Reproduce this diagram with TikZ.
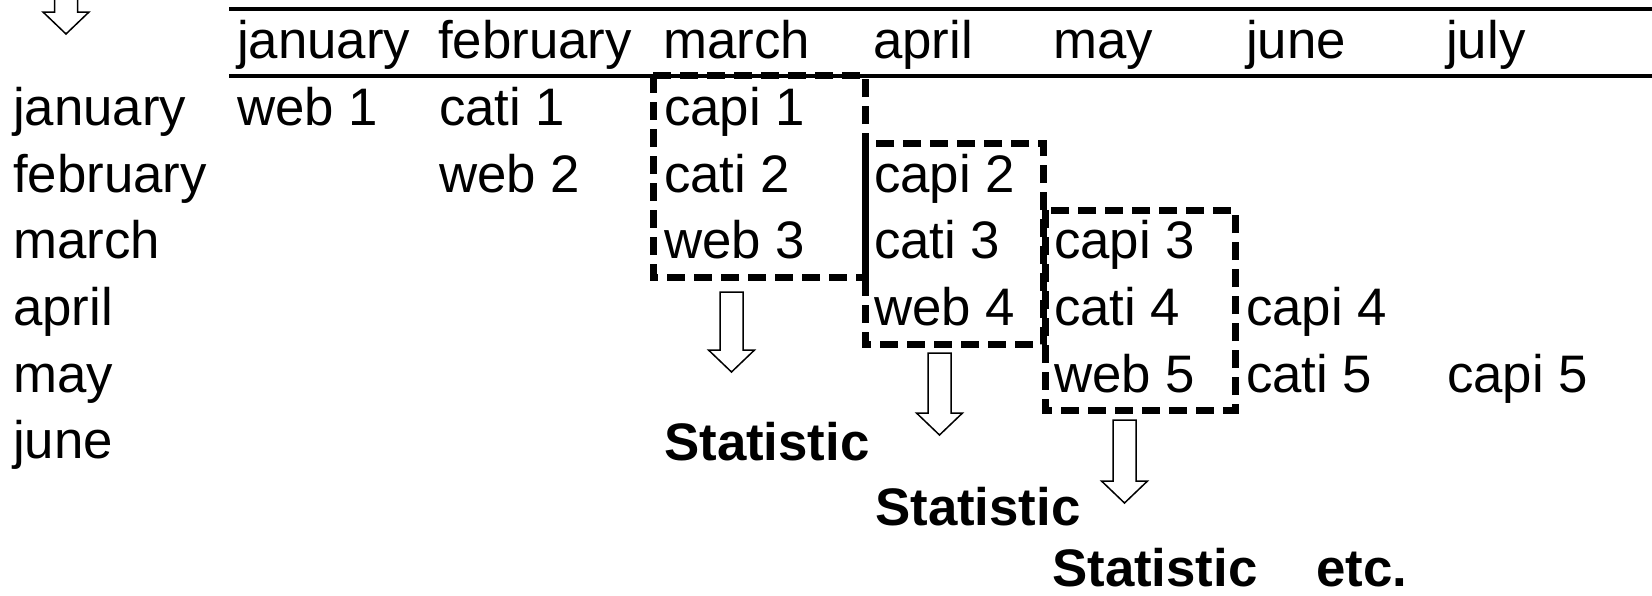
\documentclass[tikz,border=0pt]{standalone}
\usepackage{fontspec}
\setmainfont{Liberation Sans}
\newcommand\harrow[3]{%
  \draw[hollow] ({#1-11.5},{#2}) -- ({#1+11.5},{#2}) -- ({#1+11.5},{#3-22}) -- ({#1+23},{#3-22})
    -- ({#1},{#3}) -- ({#1-23},{#3-22}) -- ({#1-11.5},{#3-22}) -- cycle;}
\begin{document}
\begin{tikzpicture}[x=1pt,y=-1pt,
  cell/.style={anchor=base west,inner sep=0pt,font=\fontsize{52.8}{60}\selectfont},
  stat/.style={anchor=base west,inner sep=0pt,font=\fontsize{52.8}{60}\selectfont\bfseries},
  rule/.style={line width=3.5pt},
  window/.style={draw,line width=7pt,dash pattern=on 18pt off 9pt},
  hollow/.style={draw,line width=1.5pt,fill=white,line join=miter}]
\useasboundingbox (0,0) rectangle (1652,595);
\clip (0,0) rectangle (1652,595);
% header rules
\draw[rule] (229,9) -- (1652,9);
\draw[rule] (229,76) -- (1652,76);
% header
\node[cell] (h1) at (237,58) {january};
\node[cell] (h2) at (438,58) {february};
\node[cell] (h3) at (663,58) {march};
\node[cell] (h4) at (873,58) {april};
\node[cell] (h5) at (1053,58) {may};
\node[cell] (h6) at (1246,58) {june};
\node[cell] (h7) at (1446,58) {july};
% row labels
\node[cell] (r1) at (13,125) {january};
\node[cell] (r2) at (13,192) {february};
\node[cell] (r3) at (13,258) {march};
\node[cell] (r4) at (13,325) {april};
\node[cell] (r5) at (13,392) {may};
\node[cell] (r6) at (13,458) {june};
% cells
\node[cell] (w1) at (237,125) {web 1};
\node[cell] (t1) at (439,125) {cati 1};
\node[cell] (p1) at (664,125) {capi 1};
\node[cell] (w2) at (439,192) {web 2};
\node[cell] (t2) at (664,192) {cati 2};
\node[cell] (p2) at (874,192) {capi 2};
\node[cell] (w3) at (664,258) {web 3};
\node[cell] (t3) at (874,258) {cati 3};
\node[cell] (p3) at (1054,258) {capi 3};
\node[cell] (w4) at (874,325) {web 4};
\node[cell] (t4) at (1054,325) {cati 4};
\node[cell] (p4) at (1246,325) {capi 4};
\node[cell] (w5) at (1054,392) {web 5};
\node[cell] (t5) at (1246,392) {cati 5};
\node[cell] (p5) at (1447,392) {capi 5};
% windows
\draw[window] (653,75) rectangle (865,277);
\draw[window] (865,143) rectangle (1043,344);
\draw[window] (1045,210) rectangle (1235,410);
% arrows
\harrow{66}{-10}{34}
\harrow{731.5}{292}{372}
\harrow{939.5}{353}{435}
\harrow{1124.5}{420}{503}
% statistics
\node[stat] (s1) at (664,460) {Statistic};
\node[stat] (s2) at (875,525) {Statistic};
\node[stat] (s3) at (1052,586) {Statistic};
\node[stat] (etc) at (1316,586) {etc.};
\end{tikzpicture}
\end{document}
